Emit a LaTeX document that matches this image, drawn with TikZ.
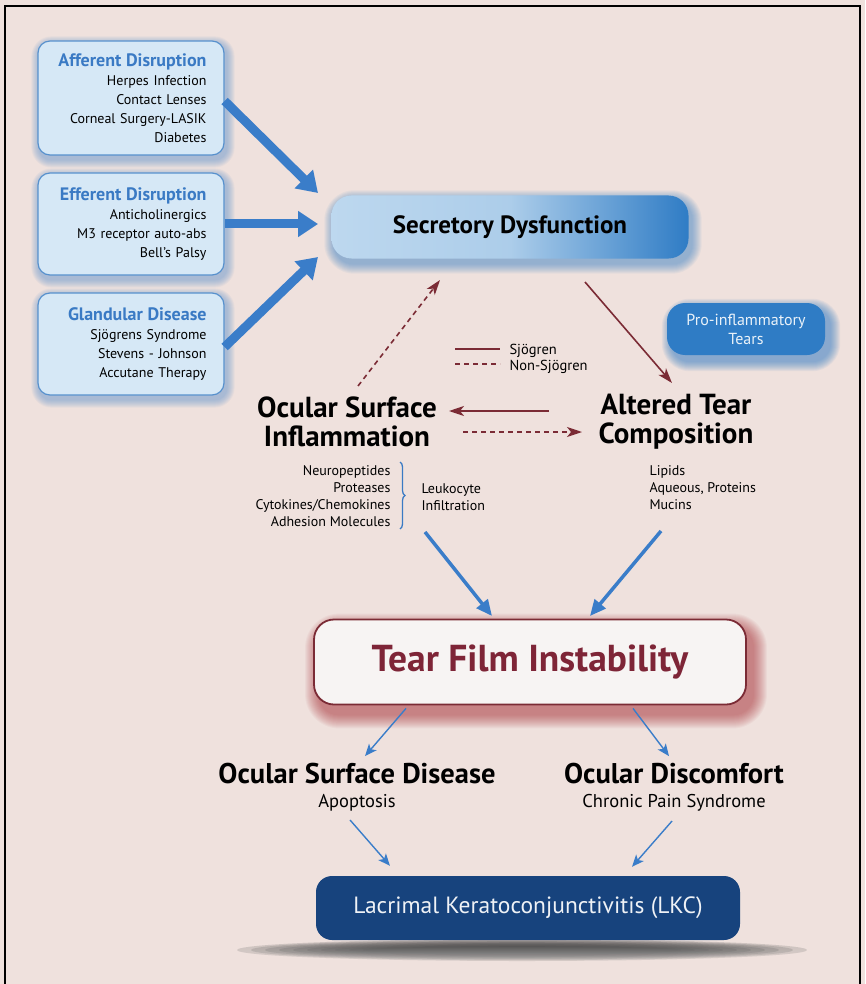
\documentclass[tikz,border=0pt]{standalone}
\usepackage{fontspec}
\setmainfont{PT Sans}
\usetikzlibrary{arrows.meta,calc,backgrounds,decorations.pathreplacing}

\definecolor{paper}{RGB}{239,225,221}
\definecolor{boxfill}{RGB}{214,232,246}
\definecolor{boxline}{RGB}{88,145,205}
\definecolor{headblue}{RGB}{58,122,196}
\definecolor{arrowblue}{RGB}{58,125,201}
\definecolor{wine}{RGB}{123,43,53}
\definecolor{winetext}{RGB}{126,37,55}
\definecolor{navy}{RGB}{23,67,125}
\definecolor{tearblue}{RGB}{47,124,197}
\definecolor{pale}{RGB}{247,244,243}
\definecolor{shade}{RGB}{95,80,100}

% soft layered shadow behind a node: node, colour, dx, dy, steps, opacity, radius
\newcommand\softshadow[7]{%
  \foreach \k in {1,...,#5}{%
    \fill[#2, opacity=#6, rounded corners=#7+\k]
      ($(#1.south west)+(#3-\k,#4+\k)$) rectangle ($(#1.north east)+(#3+\k,#4-\k)$);}}

\newcommand\boxhead[1]{{\fontsize{18}{21}\selectfont\bfseries\color{headblue}#1}}

\begin{document}
\begin{tikzpicture}[x=1pt,y=-1pt,
  leftbox/.style={draw=boxline, line width=1.2pt, fill=boxfill, rounded corners=12pt,
    minimum width=186pt, minimum height=114pt, text width=151pt, align=right,
    inner xsep=17pt, font=\fontsize{14}{19}\selectfont},
  bigarrow/.style={arrowblue, line width=9pt, -{Triangle[width=25pt,length=20pt]}},
  midarrow/.style={arrowblue, line width=3.5pt, -{Triangle[width=14pt,length=16pt]}},
  thinarrow/.style={arrowblue, line width=1.4pt, -{Stealth[width=10pt,length=12pt,inset=3pt]}},
  winearrow/.style={wine, line width=1.6pt, -{Stealth[width=10pt,length=15pt,inset=4pt]}},
  heading/.style={font=\fontsize{29}{29}\selectfont\bfseries, align=center},
  subhead/.style={font=\fontsize{28.5}{30}\selectfont\bfseries},
  subline/.style={font=\fontsize{18.5}{20}\selectfont},
  small/.style={font=\fontsize{14}{17}\selectfont},
]
\useasboundingbox (0,0) rectangle (865,984);

% ---- causes ----
\node[leftbox] (aff) at (131,98) {\boxhead{Afferent Disruption}\\Herpes Infection\\Contact Lenses\\Corneal Surgery-LASIK\\Diabetes};
\node[leftbox, minimum height=102pt] (eff) at (131,224) {\boxhead{Efferent Disruption}\\Anticholinergics\\M3 receptor auto-abs\\Bell's Palsy};
\node[leftbox, minimum height=102pt] (gla) at (131,344) {\boxhead{Glandular Disease}\\Sjögrens Syndrome\\Stevens - Johnson\\Accutane Therapy};

% ---- secretory dysfunction ----
\node[rounded corners=20pt, minimum width=357pt, minimum height=63pt,
      left color=boxfill!85!tearblue, right color=tearblue, middle color=boxfill!75!tearblue,
      font=\fontsize{25}{28}\selectfont\bfseries] (sec) at (510,227) {Secretory Dysfunction};

\node[rounded corners=18pt, fill=tearblue, minimum width=158pt, minimum height=52pt,
      text=white!90!tearblue, align=center, font=\fontsize{16}{19}\selectfont] (pro) at (746,329) {Pro-inflammatory\\Tears};

% ---- middle tier ----
\node[heading] (osi) at (347,422) {Ocular Surface\\Inflammation};
\node[heading] (atc) at (676,422) {Altered Tear\\Composition};

\node[small, align=right, anchor=east] (med) at (394,496) {Neuropeptides\\Proteases\\Cytokines/Chemokines\\Adhesion Molecules};
\node[small, align=left, anchor=west] (leu) at (418,497) {Leukocyte\\Infiltration};
\node[small, align=left, anchor=west] (cmp) at (646,488) {Lipids\\Aqueous, Proteins\\Mucins};

% legend
\coordinate (lg1a) at (455,349); \coordinate (lg1b) at (500,349);
\coordinate (lg2a) at (455,364); \coordinate (lg2b) at (500,364);
\draw[wine, line width=1.6pt] (lg1a) -- (lg1b);
\draw[wine, line width=1.6pt, dash pattern=on 5pt off 4pt] (lg2a) -- (lg2b);
\node[small, font=\fontsize{14.5}{17}\selectfont, anchor=west] (lgs) at (506,351) {Sjögren};
\node[small, font=\fontsize{14.5}{17}\selectfont, anchor=west] (lgn) at (506,367) {Non-Sjögren};

% ---- tear film ----
\node[draw=wine, line width=1.8pt, fill=pale, rounded corners=20pt, minimum width=432pt, minimum height=85pt,
      text=winetext, font=\fontsize{37.5}{40}\selectfont\bfseries] (tfi) at (530,662) {Tear Film Instability};

\node[subhead] (osd) at (357,774) {Ocular Surface Disease};
\node[subline] (apo) at (357,803) {Apoptosis};
\node[subhead] (odc) at (674,774) {Ocular Discomfort};
\node[subline] (cps) at (674,803) {Chronic Pain Syndrome};

\node[fill=navy, rounded corners=16pt, minimum width=424pt, minimum height=64pt,
      text=white!93!navy, font=\fontsize{23.5}{26}\selectfont] (lkc) at (528,908) {Lacrimal Keratoconjunctivitis (LKC)};

% ---- connectors ----
\coordinate (in1) at (318,193);
\coordinate (in2) at (318,224);
\coordinate (in3) at (318,257);
\draw[bigarrow] ($(aff.east)+(0,3)$) -- (in1);
\draw[bigarrow] (eff.east) -- (in2);
\draw[bigarrow] ($(gla.east)+(0,3)$) -- (in3);

\coordinate (sd1) at (440,280);
\coordinate (sd2) at (585,282);
\coordinate (ai1) at (358,386);
\coordinate (ai2) at (672,383);
\draw[winearrow, dash pattern=on 5pt off 4pt] (ai1) -- (sd1);
\draw[winearrow] (sd2) -- (ai2);
\coordinate (hz1) at (549,411); \coordinate (hz2) at (449,411);
\coordinate (hz3) at (463,432); \coordinate (hz4) at (582,432);
\draw[winearrow] (hz1) -- (hz2);
\draw[winearrow, dash pattern=on 5pt off 4pt] (hz3) -- (hz4);

\draw[decorate, decoration={brace, amplitude=5pt}, headblue, line width=1.3pt] (400,462) -- (400,529);

\coordinate (m1) at (425,532); \coordinate (m2) at (492,616);
\coordinate (m3) at (661,531); \coordinate (m4) at (590,616);
\draw[midarrow] (m1) -- (m2);
\draw[midarrow] (m3) -- (m4);

\draw[thinarrow] ($(tfi.south)+(-124,3)$) -- ($(osd.north)+(8,-4)$);
\draw[thinarrow] ($(tfi.south)+(103,3)$) -- ($(odc.north)+(-5,-4)$);
\draw[thinarrow] ($(apo.south)+(-7,5)$) -- ($(lkc.north)+(-138,-10)$);
\draw[thinarrow] ($(cps.south)+(-2,6)$) -- ($(lkc.north)+(104,-9)$);

% ---- paper, frame and shadows ----
\begin{scope}[on background layer]
  \fill[paper] (0,0) rectangle (865,984);
  \draw[black, line width=2.2pt] (5,984) -- (5,6) -- (860,6) -- (860,984);
  \softshadow{aff}{boxline}{2}{4}{8}{0.07}{12}
  \softshadow{eff}{boxline}{2}{4}{8}{0.07}{12}
  \softshadow{gla}{boxline}{2}{4}{8}{0.07}{12}
  \softshadow{sec}{tearblue}{3}{5}{10}{0.06}{20}
  \softshadow{pro}{tearblue}{5}{6}{10}{0.07}{18}
  \softshadow{tfi}{wine!70!red}{6}{9}{14}{0.045}{20}
  \coordinate (lkcs) at (522,950);
  \foreach \k in {0,...,9}{
    \fill[shade, opacity=0.11] (lkcs) ellipse [x radius=285-14*\k, y radius=11-0.8*\k];}
\end{scope}
\end{tikzpicture}
\end{document}
